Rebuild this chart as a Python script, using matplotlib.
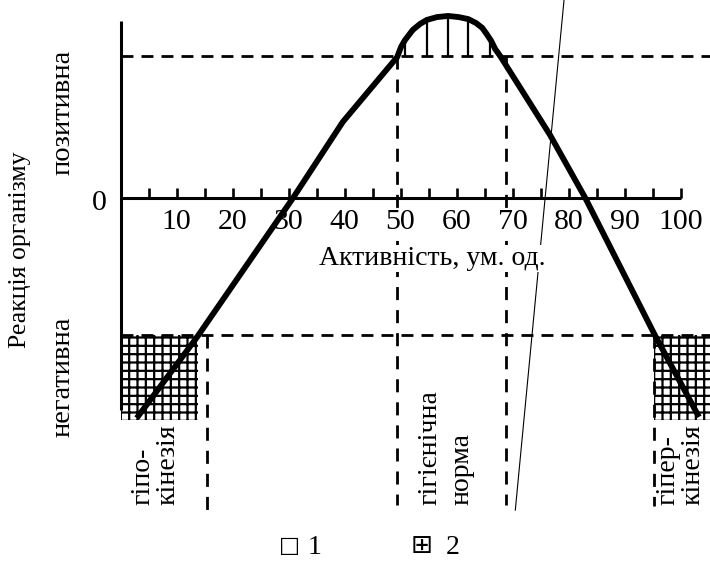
import matplotlib
matplotlib.use('Agg')
import matplotlib.pyplot as plt
from matplotlib.patches import Rectangle
import numpy as np

plt.rcParams['font.family'] = ['Liberation Serif', 'DejaVu Sans']
plt.rcParams['hatch.linewidth'] = 1.6

# ---------------- data ----------------
# response curve: activity (conventional units) vs reaction of the organism
activity = [2.9, 13.7, 30.8, 39.7, 49.4, 50.1, 50.8, 52.2, 53.5, 54.7, 56.5, 58.5,
            60.4, 62.1, 63.5, 64.6, 65.4, 66.2, 66.9, 67.8, 76.7, 83.0, 95.4, 103.3]
reaction = [-77.5, -48.9, 0.0, 26.8, 49.6, 53.2, 55.6, 59.2, 61.3, 62.7, 63.7, 64.1,
            63.7, 63.0, 61.6, 59.9, 57.7, 55.3, 52.5, 50.0, 22.2, 0.0, -48.2, -77.1]

tick_positions = list(range(5, 101, 5))
label_positions = [10, 20, 30, 40, 50, 60, 70, 80, 90, 100]
label_texts = ['10', '20', '30', '40', '50', '60', '70', '80', '90', '100']

upper_level = 50.0          # positive reaction threshold
lower_level = -48.2         # negative reaction threshold
norm_bounds = [49.3, 68.8]  # hygienic norm
hypo_bound = 15.4           # hypokinesia limit
hyper_bound = 95.2          # hyperkinesia limit
dome_hatch = [50.8, 54.7, 58.5, 62.1, 66.0]

thin_x = [79.2, 70.5]
thin_y = [69.7, -109.9]

legend_symbols = ['□', '⊞']
legend_labels = ['1', '2']

# ---------------- figure ----------------
PX_X, PX_Y, X0, Y0 = 5.6, 2.84, 120.5, 198.0
fig = plt.figure(figsize=(7.1, 5.61), dpi=100)
ax = fig.add_axes([0, 0, 1, 1])
ax.set_xlim(-X0 / PX_X, (710 - X0) / PX_X)
ax.set_ylim((Y0 - 561) / PX_Y, Y0 / PX_Y)
ax.axis('off')

xmax = (710 - X0) / PX_X
k = 'black'
hdash = (0, (4.3, 2.9))
vdash = (0, (4.7, 3.6))
dlw = 2.0

# axes lines
ax.plot([0, 0], [62.3, -74.6], color=k, lw=2.2, solid_capstyle='butt', zorder=3)
ax.plot([0, 100], [0, 0], color=k, lw=2.2, solid_capstyle='butt', zorder=3)
ax.vlines(tick_positions, 0, 3.6, color=k, lw=1.9, zorder=3)

# threshold dashed lines
ax.plot([0, xmax], [upper_level, upper_level], color=k, lw=dlw, ls=hdash, zorder=2)
ax.plot([0, xmax], [lower_level, lower_level], color=k, lw=dlw, ls=hdash, zorder=2)
for b in norm_bounds:
    ax.plot([b, b], [upper_level, -108.1], color=k, lw=dlw, ls=vdash, zorder=2)
ax.plot([hypo_bound, hypo_bound], [lower_level, -111.5], color=k, lw=dlw, ls=vdash, zorder=2)
ax.plot([hyper_bound, hyper_bound], [lower_level, -108.5], color=k, lw=dlw, ls=vdash, zorder=2)

# hatched zones
ax.add_patch(Rectangle((0, -78), 13.8, lower_level + 78, fill=False,
                       hatch='++', edgecolor=k, lw=0, zorder=2))
ax.add_patch(Rectangle((hyper_bound, -78), xmax - hyper_bound + 1, lower_level + 78,
                       fill=False, hatch='++', edgecolor=k, lw=0, zorder=2))

# hatching under the dome
ax.vlines(dome_hatch, upper_level, np.interp(dome_hatch, activity, reaction),
          color=k, lw=1.6, zorder=2)

# thin slanted line
ax.plot(thin_x, thin_y, color=k, lw=0.8, zorder=2)

# response curve
ax.plot(activity, reaction, color=k, lw=4.2, solid_joinstyle='round',
        solid_capstyle='butt', zorder=6)

# tick labels
for v, t in zip(label_positions, label_texts):
    ax.text(v, -8.6, t, ha='center', va='center', fontsize=21.5, zorder=4,
            bbox=dict(fc='white', ec='none', pad=0.3))
ax.text(-3.7, -1.8, '0', ha='center', va='center', fontsize=21.5)
ax.text(55.6, -21.3, 'Активність, ум. од.', ha='center', va='center', fontsize=20,
        zorder=4, bbox=dict(fc='white', ec='none', pad=1.0))

# y labels
ax.text(-17.9, -18.3, 'Реакція організму', rotation=90, ha='center', va='center', fontsize=18.5)
ax.text(-10.3, 30.0, 'позитивна', rotation=90, ha='center', va='center', fontsize=20.5)
ax.text(-10.3, -63.0, 'негативна', rotation=90, ha='center', va='center', fontsize=20.5)

# zone labels
ybot = -108.1
for v, t in [(4.0, 'гіпо-'), (8.5, 'кінезія'), (55.3, 'гігієнічна'), (61.0, 'норма'),
             (97.8, 'гіпер-'), (102.2, 'кінезія')]:
    ax.text(v, ybot, t, rotation=90, rotation_mode='anchor', ha='left', va='center',
            fontsize=20)

# legend
for sx, lx, s, l, fs in zip([30.1, 53.8], [34.6, 59.3], legend_symbols, legend_labels,
                            [16, 19]):
    ax.text(sx, -122.6, s, ha='center', va='center', fontsize=fs, family=['DejaVu Sans'])
    ax.text(lx, -123.0, l, ha='center', va='center', fontsize=20)

fig.savefig('out.png', dpi=100)
